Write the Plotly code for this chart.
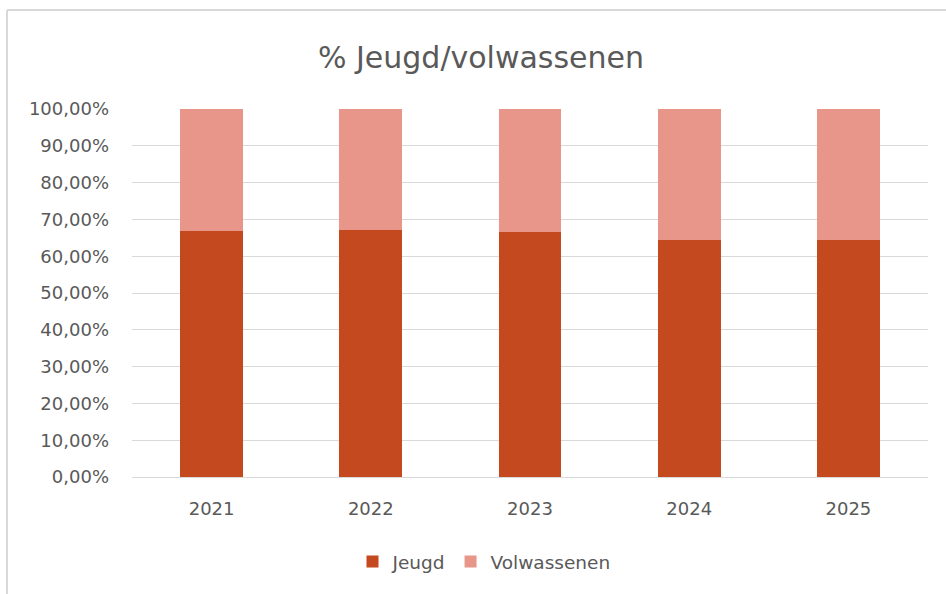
import plotly.graph_objects as go

years = ["2021", "2022", "2023", "2024", "2025"]
jeugd = [0.668, 0.672, 0.665, 0.644, 0.644]
volwassenen = [1 - v for v in jeugd]

W, H = 946, 594
L, R, T, B = 132, 18, 109, 117
pw = W - L - R
ph = H - T - B

def px_x(x):
    return (x - L) / pw

def px_y(y):
    return (H - B - y) / ph

fig = go.Figure()
fig.add_trace(go.Bar(name="Jeugd", x=years, y=jeugd, marker=dict(color="#C5491F", line=dict(width=0))))
fig.add_trace(go.Bar(name="Volwassenen", x=years, y=volwassenen, marker=dict(color="#E8968A", line=dict(width=0))))

font_fam = "DejaVu Sans, sans-serif"
fig.update_layout(
    width=W, height=H,
    barmode="stack",
    bargap=0.605,
    separators=",.",
    margin=dict(l=L, r=R, t=T, b=B),
    paper_bgcolor="white",
    plot_bgcolor="white",
    font=dict(family=font_fam, color="#595959", size=18),
    title=dict(text="% Jeugd/volwassenen", x=px_x(481), xref="paper", xanchor="center",
               y=1 - 57 / H, yanchor="middle", font=dict(size=30, color="#595959", family=font_fam)),
    xaxis=dict(showgrid=False, showline=False, ticks="", ticklabelstandoff=19,
               tickfont=dict(size=18, color="#595959")),
    yaxis=dict(range=[0, 1], dtick=0.1, tickformat=".2%", showgrid=True, gridcolor="#D9D9D9",
               gridwidth=1, zeroline=True, zerolinecolor="#D9D9D9", zerolinewidth=1,
               ticks="", ticklabelstandoff=22, tickfont=dict(size=18, color="#595959")),
    legend=dict(orientation="h", x=px_x(484), xanchor="center", y=px_y(562), yanchor="middle",
                font=dict(size=18.5, color="#595959"), traceorder="normal", itemwidth=30),
    shapes=[
        dict(type="line", xref="paper", yref="paper", x0=px_x(7), x1=px_x(960), y0=px_y(10), y1=px_y(10),
             line=dict(color="#D9D9D9", width=2)),
        dict(type="line", xref="paper", yref="paper", x0=px_x(7), x1=px_x(7), y0=px_y(10), y1=px_y(600),
             line=dict(color="#D9D9D9", width=2)),
    ],
)

fig.write_html("out.html", config={"displayModeBar": False},
               post_script="document.body.style.margin='0';")
